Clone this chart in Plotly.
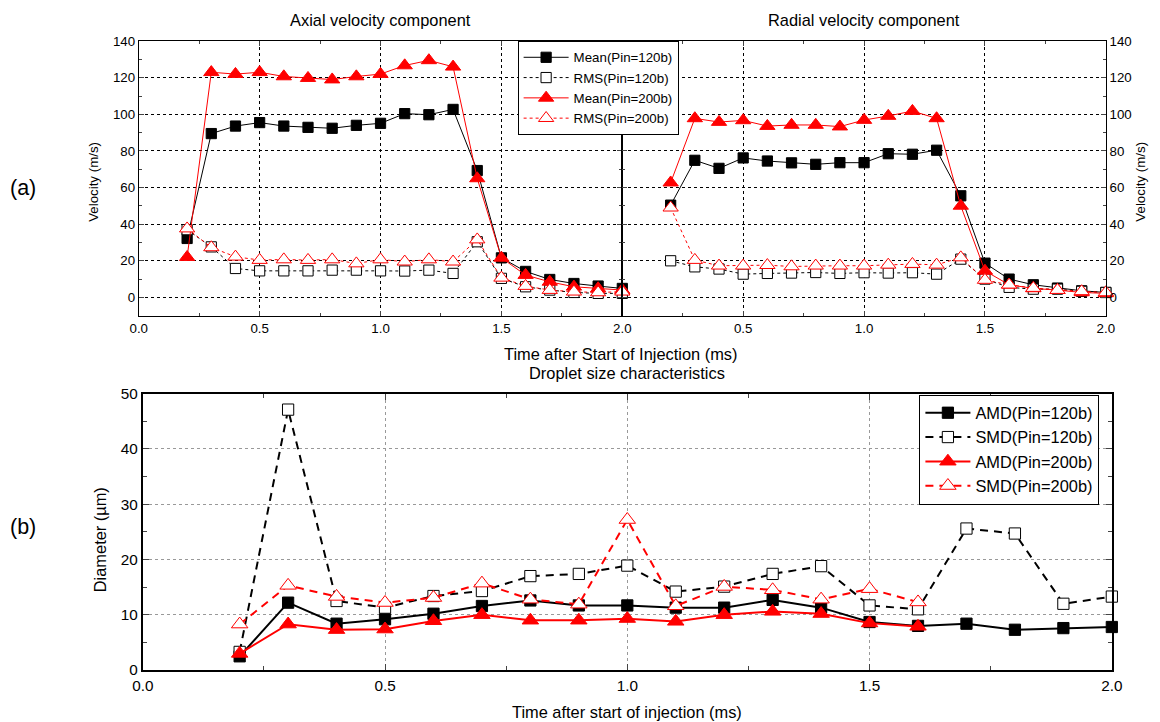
import plotly.graph_objects as go

# ---------------- data ----------------
t = [0.2, 0.3, 0.4, 0.5, 0.6, 0.7, 0.8, 0.9, 1.0, 1.1, 1.2, 1.3, 1.4, 1.5, 1.6, 1.7, 1.8, 1.9, 2.0]

axial_mean_120 = [32.2, 89.5, 93.6, 95.5, 93.6, 92.9, 92.4, 94.0, 95.1, 100.4, 99.8, 102.7, 69.3, 21.6, 14.2, 9.8, 7.6, 6.2, 4.9]
axial_rms_120 = [37.0, 27.6, 15.8, 14.5, 14.5, 14.5, 14.9, 14.9, 14.5, 14.4, 14.9, 13.1, 30.4, 10.4, 5.8, 4.0, 2.7, 2.2, 2.2]
axial_mean_200 = [22.0, 123.0, 122.0, 123.0, 120.7, 119.8, 119.0, 120.7, 122.0, 126.7, 129.5, 126.0, 65.0, 21.6, 12.2, 8.5, 5.8, 4.9, 4.0]
axial_rms_200 = [37.6, 27.3, 22.2, 20.4, 20.7, 20.4, 20.7, 18.5, 20.7, 19.5, 20.7, 19.5, 31.6, 10.7, 6.2, 4.0, 3.1, 2.7, 3.1]

radial_mean_120 = [50.4, 74.9, 70.5, 76.2, 74.5, 73.5, 72.7, 73.6, 73.6, 78.5, 78.2, 80.4, 55.5, 18.7, 10.0, 6.9, 5.1, 3.6, 2.7]
radial_rms_120 = [20.0, 16.7, 15.5, 12.7, 13.1, 13.3, 13.6, 13.1, 13.5, 13.3, 13.5, 12.7, 20.9, 10.0, 5.5, 4.5, 4.5, 3.3, 2.7]
radial_mean_200 = [62.7, 97.8, 95.8, 96.7, 93.6, 94.2, 94.2, 93.3, 96.9, 99.1, 101.8, 97.8, 50.0, 14.5, 6.9, 4.9, 4.0, 2.7, 2.2]
radial_rms_200 = [49.0, 20.4, 17.3, 17.3, 17.6, 16.9, 17.3, 17.3, 17.3, 17.8, 18.2, 17.8, 21.8, 9.5, 6.9, 5.1, 4.0, 3.3, 2.7]

t_120 = [0.2, 0.3, 0.4, 0.5, 0.6, 0.7, 0.8, 0.9, 1.0, 1.1, 1.2, 1.3, 1.4, 1.5, 1.6, 1.7, 1.8, 1.9, 2.0]
amd_120 = [2.5, 12.2, 8.4, 9.2, 10.2, 11.6, 12.6, 11.7, 11.7, 11.3, 11.3, 12.7, 11.3, 8.7, 8.0, 8.4, 7.3, 7.6, 7.8]
smd_120 = [3.3, 47.1, 12.5, 11.3, 13.4, 14.3, 17.0, 17.4, 18.9, 14.2, 15.1, 17.4, 18.8, 11.7, 11.0, 25.6, 24.7, 12.0, 13.3]
t_200 = [0.2, 0.3, 0.4, 0.5, 0.6, 0.7, 0.8, 0.9, 1.0, 1.1, 1.2, 1.3, 1.4, 1.5, 1.6]
amd_200 = [3.0, 8.3, 7.3, 7.4, 8.9, 10.0, 9.0, 9.0, 9.3, 8.8, 10.0, 10.6, 10.2, 8.5, 7.9]
smd_200 = [8.3, 15.3, 13.3, 12.2, 13.1, 15.7, 12.8, 11.9, 27.2, 11.6, 15.1, 14.5, 12.8, 14.7, 12.3]

x_ticks = [0, 0.5, 1.0, 1.5, 2.0]
x_ticktext = ["0.0", "0.5", "1.0", "1.5", "2.0"]
x_ticktext_right = ["", "0.5", "1.0", "1.5", "2.0"]
vel_ticks = [0, 20, 40, 60, 80, 100, 120, 140]
dia_ticks = [0, 10, 20, 30, 40, 50]

FONT = "Liberation Sans, Arial, Helvetica, sans-serif"
RED = "#ff0000"
KX = 1 / 0.984  # compensation for the page-to-picture scaling (x)
KY = 1 / 0.978  # compensation for the page-to-picture scaling (y)

fig = go.Figure()


def add(x, y, name, color, dash, symbol, filled, size, width, xa, ya, legend, showlegend):
    fig.add_trace(go.Scatter(
        x=x, y=y, name=name, mode="lines+markers",
        line=dict(color=color, dash=dash, width=width),
        marker=dict(symbol=symbol, size=size * KY,
                    color=color if filled else "white",
                    line=dict(color=color, width=1)),
        xaxis=xa, yaxis=ya, legend=legend, showlegend=showlegend,
        cliponaxis=False,
    ))


add(t, axial_mean_120, "Mean(Pin=120b)", "black", "solid", "square", True, 10, 1, "x", "y", "legend", True)
add(t, axial_rms_120, "RMS(Pin=120b)", "black", "dot", "square", False, 10, 1, "x", "y", "legend", True)
add(t, axial_mean_200, "Mean(Pin=200b)", RED, "solid", "triangle-up", True, 13, 1, "x", "y", "legend", True)
add(t, axial_rms_200, "RMS(Pin=200b)", RED, "3px,3px", "triangle-up", False, 13, 1, "x", "y", "legend", True)
add(t, radial_mean_120, "Mean(Pin=120b)", "black", "solid", "square", True, 10, 1, "x2", "y2", "legend", False)
add(t, radial_rms_120, "RMS(Pin=120b)", "black", "dot", "square", False, 10, 1, "x2", "y2", "legend", False)
add(t, radial_mean_200, "Mean(Pin=200b)", RED, "solid", "triangle-up", True, 13, 1, "x2", "y2", "legend", False)
add(t, radial_rms_200, "RMS(Pin=200b)", RED, "3px,3px", "triangle-up", False, 13, 1, "x2", "y2", "legend", False)
add(t_120, amd_120, "AMD(Pin=120b)", "black", "solid", "square", True, 11, 2, "x3", "y3", "legend2", True)
add(t_120, smd_120, "SMD(Pin=120b)", "black", "8px,6px", "square", False, 11, 2, "x3", "y3", "legend2", True)
add(t_200, amd_200, "AMD(Pin=200b)", RED, "solid", "triangle-up", True, 14, 2, "x3", "y3", "legend2", True)
add(t_200, smd_200, "SMD(Pin=200b)", RED, "8px,6px", "triangle-up", False, 14, 2, "x3", "y3", "legend2", True)

W, H = 1160, 722


def px(x):
    return ((x - 9) * KX - 8) / W


def py(y):
    return 1 - ((y - 9) * KY - 8) / H


def fs(v):
    return round(v * KY, 1)


top_grid = dict(showgrid=True, gridcolor="black", griddash="dot", gridwidth=1)
bot_grid = dict(showgrid=True, gridcolor="#999", griddash="dot", gridwidth=1)

common_x_top = dict(range=[0, 2], tickvals=x_ticks,
                    ticks="inside", ticklen=5, showline=True, linecolor="black", linewidth=1, mirror="allticks",
                    minor=dict(ticks="inside", ticklen=3, dtick=0.25, tick0=0, showgrid=False),
                    tickfont=dict(family=FONT, size=fs(13), color="black"), zeroline=False, **top_grid)
common_y_top = dict(range=[-10, 140], tickvals=vel_ticks,
                    ticks="inside", ticklen=5, showline=True, linecolor="black", linewidth=1, mirror="allticks",
                    minor=dict(ticks="inside", ticklen=3, dtick=10, tick0=0, showgrid=False),
                    tickfont=dict(family=FONT, size=fs(13), color="black"), zeroline=False, **top_grid)

fig.update_layout(
    width=W, height=H, margin=dict(l=0, r=0, t=0, b=0),
    paper_bgcolor="white", plot_bgcolor="white",
    font=dict(family=FONT, color="black"),
    xaxis=dict(domain=[px(137), px(622)], anchor="y", ticktext=x_ticktext, **common_x_top),
    yaxis=dict(domain=[py(316), py(41)], anchor="x", side="left", **common_y_top),
    xaxis2=dict(domain=[px(622), px(1107)], anchor="y2", ticktext=x_ticktext_right, **common_x_top),
    yaxis2=dict(domain=[py(316), py(41)], anchor="x2", side="right", **common_y_top),
    xaxis3=dict(domain=[px(141), px(1113)], anchor="y3", range=[0, 2],
                tickvals=x_ticks, ticktext=x_ticktext,
                ticks="inside", ticklen=6, showline=True, linecolor="black", linewidth=2, mirror="allticks",
                minor=dict(ticks="inside", ticklen=4, dtick=0.25, tick0=0, showgrid=False),
                tickfont=dict(family=FONT, size=fs(15), color="black"), zeroline=False, **bot_grid),
    yaxis3=dict(domain=[py(671), py(394)], anchor="x3", range=[0, 50],
                tickvals=dia_ticks,
                ticks="inside", ticklen=6, showline=True, linecolor="black", linewidth=2, mirror="allticks",
                minor=dict(ticks="inside", ticklen=4, dtick=5, tick0=0, showgrid=False),
                tickfont=dict(family=FONT, size=fs(15), color="black"), zeroline=False, **bot_grid),
    legend=dict(x=px(517), y=py(41), xanchor="left", yanchor="top", bgcolor="white",
                bordercolor="black", borderwidth=1, font=dict(family=FONT, size=fs(13), color="black"),
                tracegroupgap=0, itemwidth=45),
    legend2=dict(x=px(920), y=py(395), xanchor="left", yanchor="top", bgcolor="white",
                 bordercolor="black", borderwidth=1, font=dict(family=FONT, size=fs(16), color="black"),
                 tracegroupgap=0, itemwidth=45),
)

ann = [
    ("Axial velocity component", 379.5, 20, 16, 0),
    ("Radial velocity component", 864.5, 20, 16, 0),
    ("(a)", 21, 188, 21, 0),
    ("(b)", 21, 528, 21, 0),
    ("Velocity (m/s)", 92, 182, 13, -90),
    ("Velocity (m/s)", 1142, 182, 13, -90),
    ("Time after Start of Injection (ms)", 620, 354, 16, 0),
    ("Droplet size characteristics", 627, 373, 16, 0),
    ("Diameter (\u00b5m)", 98, 540, 16, -90),
    ("Time after start of injection (ms)", 627, 713, 16, 0),
]
for text, x, y, size, ang in ann:
    fig.add_annotation(text=text, x=px(x), y=py(y), xref="paper", yref="paper",
                       xanchor="center", yanchor="middle", showarrow=False, textangle=ang,
                       font=dict(family=FONT, size=fs(size), color="black"))

fig.write_html("out.html", config={"displayModeBar": False})
